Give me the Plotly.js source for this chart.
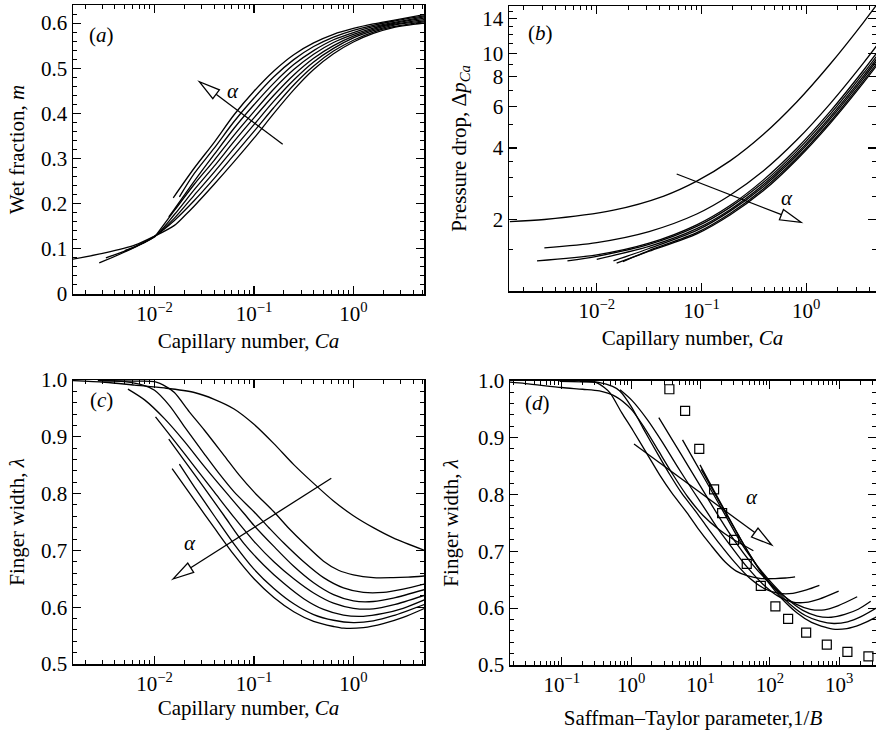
<!DOCTYPE html>
<html><head><meta charset="utf-8">
<script src="https://cdn.plot.ly/plotly-3.0.1.min.js"></script>
<style>html,body{margin:0;padding:0;background:#fff}#g{width:876px;height:730px}</style>
</head><body><div id="g"></div>
<script>
// ---------------- Panel (a): wet fraction m vs Ca ----------------
const caA1=[0.00151,0.00316,0.00631,0.01,0.01585,0.02042,0.02512,0.03981,0.0631,0.1,0.1585,0.2512,0.3981,0.631,1,1.585,2.512,5.2];
const mA1=[0.077,0.091,0.108,0.128,0.152,0.175,0.195,0.243,0.293,0.345,0.400,0.452,0.497,0.532,0.558,0.577,0.590,0.600];
const caA2=[0.00324,0.00631,0.01,0.01585,0.02512,0.03981,0.0631,0.1,0.1585,0.2512,0.3981,0.631,1,1.585,2.512,5.2];
const mA2=[0.080,0.104,0.128,0.163,0.207,0.256,0.308,0.360,0.413,0.463,0.505,0.538,0.562,0.580,0.592,0.603];
const caA3=[0.00278,0.00501,0.01,0.01585,0.02512,0.03981,0.0631,0.1,0.1585,0.2512,0.3981,0.631,1,1.585,2.512,5.2];
const mA3=[0.069,0.093,0.127,0.168,0.219,0.270,0.323,0.375,0.427,0.474,0.514,0.544,0.567,0.583,0.595,0.605];
const caA4=[0.00501,0.01,0.01585,0.02512,0.03981,0.0631,0.1,0.1585,0.2512,0.3981,0.631,1,1.585,2.512,5.2];
const mA4=[0.096,0.127,0.176,0.231,0.283,0.338,0.390,0.440,0.485,0.522,0.550,0.571,0.586,0.597,0.608];
const caA5=[0.01,0.01585,0.02512,0.03981,0.0631,0.1,0.1585,0.2512,0.3981,0.631,1,1.585,2.512,5.2];
const mA5=[0.126,0.185,0.243,0.296,0.352,0.404,0.454,0.497,0.531,0.557,0.575,0.589,0.599,0.611];
const caA6=[0.0139,0.01585,0.02512,0.03981,0.0631,0.1,0.1585,0.2512,0.3981,0.631,1,1.585,2.512,5.2];
const mA6=[0.171,0.188,0.250,0.309,0.367,0.419,0.467,0.508,0.539,0.563,0.579,0.592,0.601,0.614];
const caA7=[0.01778,0.02512,0.03981,0.0631,0.1,0.1585,0.2512,0.3981,0.631,1,1.585,2.512,5.2];
const mA7=[0.215,0.267,0.323,0.382,0.434,0.481,0.519,0.548,0.569,0.584,0.595,0.604,0.616];
const caA8=[0.01542,0.02512,0.03981,0.0631,0.1,0.1585,0.2512,0.3981,0.631,1,1.585,2.512,5.2];
const mA8=[0.213,0.279,0.336,0.397,0.449,0.494,0.530,0.556,0.575,0.588,0.598,0.606,0.619];

// ---------------- Panel (b): pressure drop vs Ca ----------------
const caB1=[0.00148,0.00316,0.0145,0.0437,0.0902,0.1875,0.389,0.8128,1.69,3.516,5.2];
const pB1=[1.96,2.0,2.19,2.51,2.90,3.53,4.56,6.25,9.01,13.5,17.0];
const caB2=[0.00316,0.01,0.0316,0.0902,0.1875,0.389,0.8128,1.69,3.516,5.2];
const pB2=[1.52,1.60,1.78,2.11,2.53,3.20,4.32,6.14,9.11,11.41];
const caB3=[0.00269,0.01,0.0316,0.0902,0.1875,0.389,0.8128,1.69,3.516,5.2];
const pB3=[1.34,1.42,1.59,1.90,2.29,2.93,3.98,5.69,8.48,10.64];
const caB4=[0.00525,0.01,0.0316,0.0902,0.1875,0.389,0.8128,1.69,3.516,5.2];
const pB4=[1.34,1.40,1.57,1.87,2.25,2.86,3.88,5.54,8.24,10.33];
const caB5=[0.01,0.0316,0.0902,0.1875,0.389,0.8128,1.69,3.516,5.2];
const pB5=[1.36,1.54,1.83,2.20,2.80,3.79,5.40,8.03,10.07];
const caB6=[0.01445,0.0316,0.0902,0.1875,0.389,0.8128,1.69,3.516,5.2];
const pB6=[1.34,1.51,1.80,2.17,2.75,3.72,5.29,7.86,9.85];
const caB7=[0.01778,0.0316,0.0902,0.1875,0.389,0.8128,1.69,3.516,5.2];
const pB7=[1.33,1.48,1.76,2.12,2.69,3.63,5.16,7.67,9.6];
const caB8=[0.01549,0.0316,0.0902,0.1875,0.389,0.8128,1.69,3.516,5.2];
const pB8=[1.31,1.47,1.74,2.09,2.64,3.57,5.07,7.52,9.41];

// ---------------- Panel (c): finger width vs Ca ----------------
const caC1=[0.00151,0.00316,0.00631,0.01259,0.02512,0.03981,0.0631,0.1,0.1585,0.2512,0.3981,0.631,1,1.585,2.512,5.2];
const lC1=[0.999,0.996,0.991,0.986,0.978,0.966,0.949,0.922,0.888,0.851,0.818,0.787,0.761,0.740,0.722,0.700];
const caC2=[0.00302,0.00631,0.01,0.01318,0.01585,0.02239,0.03162,0.05012,0.07079,0.1,0.1585,0.2239,0.3162,0.5012,0.7079,1,1.585,2.512,3.548,5.2];
const lC2=[0.999,0.998,0.997,0.988,0.978,0.944,0.912,0.867,0.833,0.803,0.768,0.739,0.713,0.681,0.665,0.657,0.652,0.652,0.653,0.655];
const caC3=[0.00269,0.00501,0.00794,0.01,0.01413,0.01995,0.03162,0.04467,0.0631,0.1,0.1413,0.1995,0.3162,0.5012,0.7943,1.259,1.995,3.162,5.2];
const lC3=[0.999,0.997,0.990,0.982,0.955,0.918,0.870,0.835,0.803,0.768,0.740,0.713,0.680,0.652,0.634,0.626,0.626,0.632,0.641];
const caC4=[0.0054,0.00794,0.01259,0.01995,0.03162,0.05012,0.07943,0.1,0.1585,0.2512,0.3981,0.631,1,1.585,2.512,5.2];
const lC4=[0.984,0.965,0.932,0.892,0.848,0.806,0.765,0.744,0.707,0.672,0.643,0.622,0.611,0.610,0.616,0.631];
const caC5=[0.01023,0.01585,0.02512,0.03981,0.0631,0.1,0.1585,0.2512,0.3981,0.631,1,1.585,2.512,5.2];
const lC5=[0.935,0.893,0.848,0.803,0.758,0.716,0.680,0.650,0.625,0.607,0.598,0.597,0.604,0.621];
const caC6=[0.0139,0.01995,0.03162,0.05012,0.07943,0.1259,0.1995,0.3162,0.5012,0.7943,1.259,1.995,3.162,5.2];
const lC6=[0.896,0.858,0.810,0.761,0.712,0.674,0.642,0.615,0.596,0.586,0.584,0.589,0.598,0.613];
const caC7=[0.01778,0.02512,0.03981,0.0631,0.1,0.1585,0.2512,0.3981,0.631,1,1.585,2.512,5.2];
const lC7=[0.852,0.812,0.761,0.711,0.667,0.633,0.606,0.587,0.577,0.573,0.576,0.585,0.605];
const caC8=[0.01503,0.02512,0.03981,0.0631,0.1,0.1585,0.2512,0.3981,0.631,0.7943,1.259,1.995,3.162,5.2];
const lC8=[0.844,0.789,0.740,0.692,0.650,0.617,0.592,0.575,0.566,0.563,0.564,0.571,0.582,0.598];

// ---------------- Panel (d): finger width vs Saffman-Taylor parameter 1/B ----------------
const bD1=[0.0126,0.03,0.1,0.2,0.35,0.6,1.0,1.6,2.5,4.0,6.6,10.9,17.7,28.8,57.8];
const lD1=[0.999,0.995,0.988,0.985,0.982,0.972,0.950,0.915,0.876,0.835,0.795,0.763,0.740,0.722,0.701];
const bD2=[0.0931,0.195,0.309,0.411,0.500,0.731,1.069,1.782,2.618,3.837,6.368,9.354,13.68,22.70,32.81,46.88,74.99,118.9,167.5,230.7];
const lD2=[0.999,0.998,0.997,0.988,0.978,0.944,0.912,0.867,0.833,0.803,0.768,0.739,0.713,0.681,0.665,0.657,0.652,0.652,0.653,0.655];
const bD3=[0.1816,0.339,0.541,0.687,1.0,1.466,2.449,3.606,5.297,8.790,12.88,18.88,31.41,51.88,84.53,135.5,214.8,337.3,516.4];
const lD3=[0.999,0.997,0.990,0.982,0.955,0.918,0.870,0.835,0.803,0.768,0.740,0.713,0.680,0.652,0.634,0.626,0.626,0.632,0.640];
const bD4=[0.692,1.035,1.702,2.818,4.699,7.834,13.06,16.90,28.25,47.10,77.98,127.6,206.1,327.3,512.9,979.5];
const lD4=[0.984,0.965,0.932,0.892,0.848,0.806,0.765,0.744,0.707,0.672,0.643,0.622,0.611,0.610,0.616,0.630];
const bD5=[2.506,4.064,6.792,11.35,19.05,31.99,53.33,88.51,145.9,238.2,382.8,608.1,952.8,1811];
const lD5=[0.935,0.893,0.848,0.803,0.758,0.716,0.680,0.650,0.625,0.607,0.598,0.597,0.604,0.620];
const bD6=[5.508,8.260,13.87,23.39,39.63,66.22,110.2,182.4,298.5,480.8,765.6,1202,1875,2838];
const lD6=[0.896,0.858,0.810,0.761,0.712,0.674,0.642,0.615,0.596,0.586,0.584,0.589,0.598,0.612];
const bD7=[9.840,14.79,25.06,42.46,71.78,119.9,198.6,324.3,523.6,835.6,1318,2056,3882];
const lD7=[0.852,0.812,0.761,0.711,0.667,0.633,0.606,0.587,0.577,0.573,0.576,0.585,0.604];
const bD8=[10.26,18.32,30.97,52.48,88.51,147.9,244.3,398.1,641.2,810.4,1285,2009,3126,4831];
const lD8=[0.844,0.789,0.740,0.692,0.650,0.617,0.592,0.575,0.566,0.563,0.564,0.571,0.582,0.597];
// experimental points (open squares)
const expB=[3.56,6.0,9.6,15.7,20.5,30.5,46.4,74,120,183,333,661,1309,2630];
const expL=[0.985,0.947,0.880,0.809,0.767,0.720,0.678,0.639,0.603,0.581,0.557,0.536,0.523,0.515];

// ---------------- tick labels ----------------
const caTickVals=[0.01,0.1,1];
const caTickText=['10<sup>−2</sup>','10<sup>−1</sup>','10<sup>0</sup>'];
const bTickVals=[0.1,1,10,100,1000];
const bTickText=['10<sup>−1</sup>','10<sup>0</sup>','10<sup>1</sup>','10<sup>2</sup>','10<sup>3</sup>'];
const mTickVals=[0,0.1,0.2,0.3,0.4,0.5,0.6];
const mTickText=['0','0.1','0.2','0.3','0.4','0.5','0.6'];
const pTickVals=[2,4,6,8,10,14];
const pTickText=['2','4','6','8','10','14'];
const lamTickVals=[0.5,0.6,0.7,0.8,0.9,1.0];
const lamTickText=['0.5','0.6','0.7','0.8','0.9','1.0'];

function logMinor(lo,hi){const out=[];for(let e=lo;e<=hi;e++){for(let k=2;k<=9;k++){out.push(k*Math.pow(10,e));}}return out;}
function linMinor(a,b,s){const out=[];for(let v=a;v<=b+1e-9;v+=s){out.push(+v.toFixed(4));}return out;}

const W=876,H=730;
const X=px=>px/W, Y=py=>1-py/H;
const FONT='"Liberation Serif", "Times New Roman", serif';
const FS=21;

const lineStyle={color:'black',width:1.3,shape:'spline',smoothing:0.8};
const traces=[];
function addSet(xs,ys,xa,ya){for(let i=0;i<xs.length;i++){traces.push({x:xs[i],y:ys[i],xaxis:xa,yaxis:ya,mode:'lines',line:lineStyle,hoverinfo:'skip'});}}
addSet([caA1,caA2,caA3,caA4,caA5,caA6,caA7,caA8],[mA1,mA2,mA3,mA4,mA5,mA6,mA7,mA8],'x','y');
addSet([caB1,caB2,caB3,caB4,caB5,caB6,caB7,caB8],[pB1,pB2,pB3,pB4,pB5,pB6,pB7,pB8],'x2','y2');
addSet([caC1,caC2,caC3,caC4,caC5,caC6,caC7,caC8],[lC1,lC2,lC3,lC4,lC5,lC6,lC7,lC8],'x3','y3');
addSet([bD1,bD2,bD3,bD4,bD5,bD6,bD7,bD8],[lD1,lD2,lD3,lD4,lD5,lD6,lD7,lD8],'x4','y4');
traces.push({x:expB,y:expL,xaxis:'x4',yaxis:'y4',mode:'markers',marker:{symbol:'square-open',size:9,color:'black',line:{width:1.2,color:'black'}},hoverinfo:'skip',cliponaxis:false});

function minorOf(vals){return {ticks:'inside',ticklen:4,tickwidth:1,tickcolor:'black',showgrid:false,tickmode:'array',tickvals:vals};}
function axisBase(extra){
  return Object.assign({showline:true,linecolor:'black',linewidth:1.5,mirror:'allticks',ticks:'inside',ticklen:8,tickwidth:1.1,tickcolor:'black',
    showgrid:false,zeroline:false,tickfont:{family:FONT,size:FS,color:'black'},tickmode:'array',automargin:false},extra);
}
function ttl(t,s){return {text:t,font:{family:FONT,size:FS,color:'black'},standoff:s};}

const layout={
  width:W,height:H,margin:{l:0,r:0,t:0,b:0},showlegend:false,paper_bgcolor:'white',plot_bgcolor:'white',
  font:{family:FONT,size:FS,color:'black'},
  xaxis:axisBase({domain:[X(73),X(424)],anchor:'y',type:'log',range:[-2.82,0.71],tickvals:caTickVals,ticktext:caTickText,
    minor:minorOf(logMinor(-3,0)),title:ttl('Capillary number, <i>Ca</i>',8)}),
  yaxis:axisBase({domain:[Y(294),Y(5)],anchor:'x',range:[0,0.64],tickvals:mTickVals,ticktext:mTickText,
    minor:minorOf(linMinor(0,0.64,0.02)),title:ttl('Wet fraction, <i>m</i>',10)}),
  xaxis2:axisBase({domain:[X(509),1],anchor:'y2',type:'log',range:[-2.838,0.667],tickvals:caTickVals,ticktext:caTickText,
    minor:minorOf(logMinor(-3,0)),title:ttl('Capillary number, <i>Ca</i>',8)}),
  yaxis2:axisBase({domain:[Y(291),Y(6)],anchor:'x2',type:'log',range:[0,1.2],tickvals:pTickVals,ticktext:pTickText,
    minor:minorOf([1.5,2.5,3,3.5,5,7,9,11,12,13,15]),title:ttl('Pressure drop, Δ<i>p</i><sub><i>Ca</i></sub>',10)}),
  xaxis3:axisBase({domain:[X(73),X(424)],anchor:'y3',type:'log',range:[-2.82,0.71],tickvals:caTickVals,ticktext:caTickText,
    minor:minorOf(logMinor(-3,0)),title:ttl('Capillary number, <i>Ca</i>',4)}),
  yaxis3:axisBase({domain:[Y(664),Y(380)],anchor:'x3',range:[0.5,1.0],tickvals:lamTickVals,ticktext:lamTickText,
    minor:minorOf(linMinor(0.5,1.0,0.02)),title:ttl('Finger width, <i>λ</i>',10)}),
  xaxis4:axisBase({domain:[X(510),1],anchor:'y4',type:'log',range:[-1.745,3.529],tickvals:bTickVals,ticktext:bTickText,
    minor:minorOf(logMinor(-2,3)),title:ttl('Saffman–Taylor parameter,1/<i>B</i>',15)}),
  yaxis4:axisBase({domain:[Y(665),Y(380.7)],anchor:'x4',range:[0.5,1.0],tickvals:lamTickVals,ticktext:lamTickText,
    minor:minorOf(linMinor(0.5,1.0,0.02)),title:ttl('Finger width, <i>λ</i>',13)}),
  shapes:[],annotations:[]
};

// alpha arrows (open triangular heads), pixel geometry
function arrow(tail,tip,len,half){
  const dx=tail[0]-tip[0],dy=tail[1]-tip[1],L=Math.hypot(dx,dy),ux=dx/L,uy=dy/L;
  const bx=tip[0]+ux*len,by=tip[1]+uy*len,nx=-uy,ny=ux;
  const c1=[bx+nx*half,by+ny*half],c2=[bx-nx*half,by-ny*half];
  layout.shapes.push({type:'line',xref:'paper',yref:'paper',x0:X(tail[0]),y0:Y(tail[1]),x1:X(bx),y1:Y(by),line:{color:'black',width:1.3}});
  layout.shapes.push({type:'path',xref:'paper',yref:'paper',path:`M ${X(tip[0])} ${Y(tip[1])} L ${X(c1[0])} ${Y(c1[1])} L ${X(c2[0])} ${Y(c2[1])} Z`,fillcolor:'white',line:{color:'black',width:1.3}});
}
arrow([282.7,144.3],[199.3,81.7],21,5.5);
arrow([676.7,174],[801,222.3],21,5.5);
arrow([331.3,478.3],[173,579],21,5.5);
arrow([634,444],[771.7,545],21,5.5);

function label(px,py,t,sty){layout.annotations.push({xref:'paper',yref:'paper',x:X(px),y:Y(py),text:t,showarrow:false,xanchor:'center',yanchor:'middle',font:{family:FONT,size:FS,color:'black',style:sty||'normal'}});}
label(233.3,91,'α','italic');
label(786.7,198.3,'α','italic');
label(189.7,543.3,'α','italic');
label(751.7,496.7,'α','italic');
label(101.7,35,'(<i>a</i>)');
label(540,32.7,'(<i>b</i>)');
label(101.3,400,'(<i>c</i>)');
label(537.3,403.3,'(<i>d</i>)');

Plotly.newPlot('g',traces,layout,{staticPlot:true,displayModeBar:false});
</script></body></html>
